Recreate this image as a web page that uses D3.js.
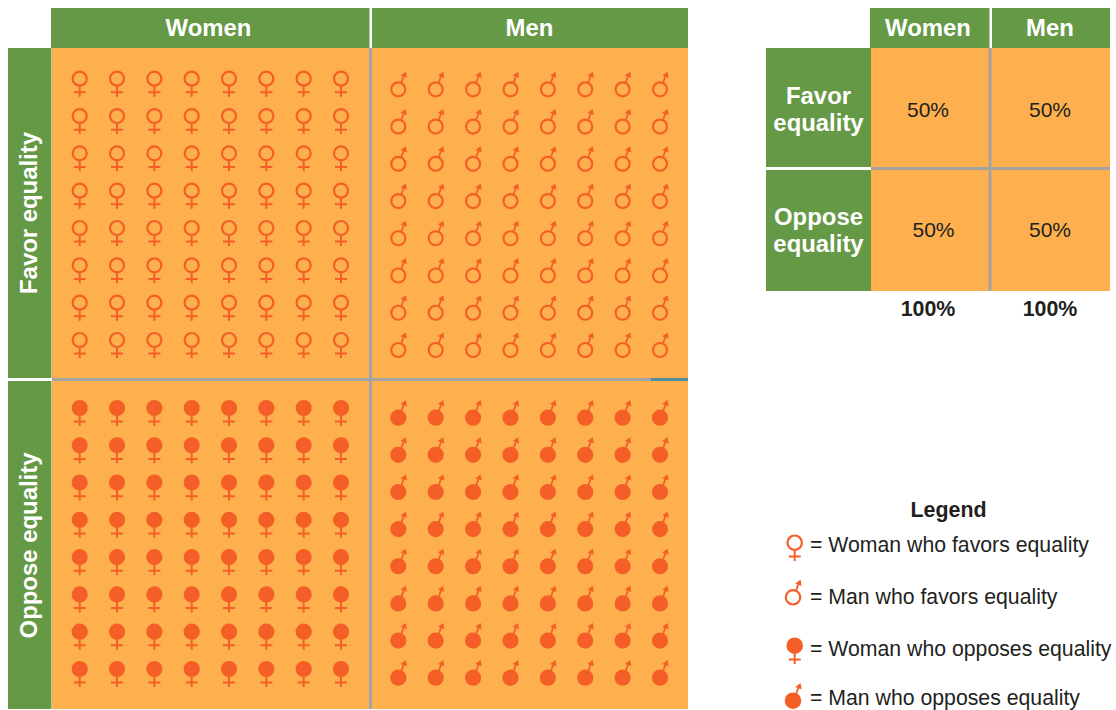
<!DOCTYPE html>
<html lang="en">
<head>
<meta charset="UTF-8">
<title>Favor or oppose equality by gender</title>
<style>
  html, body { margin: 0; padding: 0; background: #fff; }
  svg { display: block; }
  text { font-family: "Liberation Sans", Arial, sans-serif; }
</style>
</head>
<body>
<div class="canvas"></div>
<script src="https://cdnjs.cloudflare.com/ajax/libs/d3/7.8.5/d3.min.js"></script>
<script>
// data
const genders = ['Women', 'Men'];
const stances = ['Favor equality', 'Oppose equality'];
const stanceLinesTable = [['Favor', 'equality'], ['Oppose', 'equality']];
const womenCounts = [64, 64];   // favor, oppose
const menCounts = [64, 64];
const womenPercents = ['50%', '50%'];
const menPercents = ['50%', '50%'];
const totals = ['100%', '100%'];
const perRow = 8;
const legendTitle = 'Legend';
const legendLabels = [
  '= Woman who favors equality',
  '= Man who favors equality',
  '= Woman who opposes equality',
  '= Man who opposes equality'
];

const GREEN = '#659946', ORANGE = '#fdb04d', MARK = '#f45f27', GRAY = '#a3a3a3', TEAL = '#4f8e9e', INK = '#231f20';
const HEAD_SIZE = 23.9;

const svg = d3.select('.canvas').append('svg')
  .attr('width', 1116)
  .attr('height', 710);

// draws one gender symbol around the ring centre
function symbol(g, gender, oppose, r) {
  g.append('circle')
    .attr('r', r)
    .attr('fill', oppose ? MARK : 'none')
    .attr('stroke', MARK)
    .attr('stroke-width', 2.2);
  const p = d3.path();
  if (gender === 'Women') {
    p.moveTo(0, r); p.lineTo(0, r + 11);
    p.moveTo(-6, r + 6.6); p.lineTo(6, r + 6.6);
    g.append('path')
      .attr('d', p.toString())
      .attr('fill', 'none')
      .attr('stroke', MARK)
      .attr('stroke-width', 2);
  } else {
    p.moveTo(r * 0.42, -r * 0.9); p.lineTo(5.4, -13);
    g.append('path')
      .attr('d', p.toString())
      .attr('fill', 'none')
      .attr('stroke', MARK)
      .attr('stroke-width', 1.8);
    // small filled arrow head
    const h = d3.path();
    h.moveTo(7.6, -17.6); h.lineTo(2.2, -13.8); h.lineTo(8.6, -11.4); h.closePath();
    g.append('path').attr('d', h.toString()).attr('fill', MARK);
  }
}

// ---- left table
const yRow = d3.scaleOrdinal().domain(stances).range([[48, 378], [381, 709]]);

svg.append('rect').attr('x', 52).attr('y', 48).attr('width', 636).attr('height', 661).attr('fill', ORANGE);

// header cells
svg.selectAll('.colHead').data(genders).join('rect')
  .attr('class', 'colHead')
  .attr('x', d => d === 'Women' ? 51 : 372)
  .attr('y', 8)
  .attr('width', d => d === 'Women' ? 318.5 : 316)
  .attr('height', 40)
  .attr('fill', GREEN);
svg.selectAll('.colLabel').data(genders).join('text')
  .attr('class', 'colLabel')
  .attr('x', d => d === 'Women' ? 208.5 : 529.5)
  .attr('y', 36)
  .attr('text-anchor', 'middle')
  .attr('fill', '#fff')
  .attr('font-weight', 700)
  .attr('font-size', HEAD_SIZE)
  .text(d => d);

svg.selectAll('.rowHead').data(stances).join('rect')
  .attr('class', 'rowHead')
  .attr('x', 8)
  .attr('y', d => yRow(d)[0])
  .attr('width', 43.5)
  .attr('height', d => yRow(d)[1] - yRow(d)[0])
  .attr('fill', GREEN);
svg.selectAll('.rowLabel').data(stances).join('text')
  .attr('class', 'rowLabel')
  .attr('transform', d => `translate(37,${d === stances[0] ? 213 : 545.5}) rotate(-90)`)
  .attr('text-anchor', 'middle')
  .attr('fill', '#fff')
  .attr('font-weight', 700)
  .attr('font-size', HEAD_SIZE)
  .text(d => d);

// grid lines inside the table
svg.append('line').attr('x1', 370.5).attr('x2', 370.5).attr('y1', 48).attr('y2', 709)
  .attr('stroke', GRAY).attr('stroke-width', 3);
svg.append('line').attr('x1', 52).attr('x2', 651).attr('y1', 379.5).attr('y2', 379.5)
  .attr('stroke', GRAY).attr('stroke-width', 3);
svg.append('line').attr('x1', 651).attr('x2', 688).attr('y1', 379.5).attr('y2', 379.5)
  .attr('stroke', TEAL).attr('stroke-width', 3);

// symbol grids, one panel per gender + stance
const xSym = {
  Women: d3.scaleLinear().domain([0, perRow - 1]).range([79.7, 341]),
  Men: d3.scaleLinear().domain([0, perRow - 1]).range([398.3, 660])
};
const ySym = {
  Women: [
    d3.scaleLinear().domain([0, perRow - 1]).range([78.7, 340]),
    d3.scaleLinear().domain([0, perRow - 1]).range([408, 669])
  ],
  Men: [
    d3.scaleLinear().domain([0, perRow - 1]).range([89.3, 350]),
    d3.scaleLinear().domain([0, perRow - 1]).range([417.7, 677.7])
  ]
};

genders.forEach(gender => {
  const counts = gender === 'Women' ? womenCounts : menCounts;
  stances.forEach((stance, s) => {
    svg.append('g').selectAll('g').data(d3.range(counts[s])).join('g')
      .attr('transform', i => `translate(${xSym[gender](i % perRow)},${ySym[gender][s](Math.floor(i / perRow))})`)
      .each(function () { symbol(d3.select(this), gender, s === 1, 7); });
  });
});

// ---- right table
svg.append('rect').attr('x', 871).attr('y', 48).attr('width', 239).attr('height', 243).attr('fill', ORANGE);

const xSmall = d3.scaleOrdinal().domain(genders).range([928, 1050]);
svg.selectAll('.smallHead').data(genders).join('rect')
  .attr('class', 'smallHead')
  .attr('x', d => d === 'Women' ? 870 : 992)
  .attr('y', 8)
  .attr('width', d => d === 'Women' ? 119.5 : 118)
  .attr('height', 40)
  .attr('fill', GREEN);
svg.selectAll('.smallLabel').data(genders).join('text')
  .attr('class', 'smallLabel')
  .attr('x', d => xSmall(d))
  .attr('y', 36)
  .attr('text-anchor', 'middle')
  .attr('fill', '#fff')
  .attr('font-weight', 700)
  .attr('font-size', HEAD_SIZE)
  .text(d => d);

const ySmall = d3.scaleOrdinal().domain(stances).range([[48, 167], [170, 291]]);
svg.selectAll('.smallRow').data(stances).join('rect')
  .attr('class', 'smallRow')
  .attr('x', 766)
  .attr('y', d => ySmall(d)[0])
  .attr('width', 105)
  .attr('height', d => ySmall(d)[1] - ySmall(d)[0])
  .attr('fill', GREEN);
svg.selectAll('.smallRowLabel').data(stanceLinesTable).join('text')
  .attr('class', 'smallRowLabel')
  .attr('text-anchor', 'middle')
  .attr('fill', '#fff')
  .attr('font-weight', 700)
  .attr('font-size', HEAD_SIZE)
  .each(function (lines, i) {
    d3.select(this).selectAll('tspan').data(lines).join('tspan')
      .attr('x', 818.5)
      .attr('y', (d, j) => (i === 0 ? 104 : 225) + j * 27)
      .text(d => d);
  });

svg.append('line').attr('x1', 990).attr('x2', 990).attr('y1', 48).attr('y2', 291)
  .attr('stroke', GRAY).attr('stroke-width', 3);
svg.append('line').attr('x1', 871).attr('x2', 1110).attr('y1', 168.5).attr('y2', 168.5)
  .attr('stroke', GRAY).attr('stroke-width', 3);

// percent cells
const pctCells = [
  { v: womenPercents[0], x: xSmall('Women'), y: 117 },
  { v: menPercents[0], x: xSmall('Men'), y: 117 },
  { v: womenPercents[1], x: xSmall('Women') + 5.5, y: 237 },
  { v: menPercents[1], x: xSmall('Men'), y: 237 }
];
svg.selectAll('.pct').data(pctCells).join('text')
  .attr('class', 'pct')
  .attr('x', d => d.x)
  .attr('y', d => d.y)
  .attr('text-anchor', 'middle')
  .attr('fill', INK)
  .attr('font-size', 21)
  .text(d => d.v);

svg.selectAll('.total').data(totals).join('text')
  .attr('class', 'total')
  .attr('x', (d, i) => xSmall(genders[i]))
  .attr('y', 316)
  .attr('text-anchor', 'middle')
  .attr('fill', INK)
  .attr('font-weight', 700)
  .attr('font-size', 21.4)
  .text(d => d);

// ---- legend
svg.append('text')
  .attr('x', 948.5)
  .attr('y', 517)
  .attr('text-anchor', 'middle')
  .attr('fill', INK)
  .attr('font-weight', 700)
  .attr('font-size', 21.4)
  .text(legendTitle);

// last label sits a little higher than the reference so its descenders stay on the page
const legendY = d3.scaleOrdinal().domain(legendLabels).range([552, 604, 656, 704.5]);
const legendSym = [
  { g: 'Women', opp: false, x: 794.7, y: 542.7 },
  { g: 'Men', opp: false, x: 793, y: 597.3 },
  { g: 'Women', opp: true, x: 794.7, y: 645.7 },
  { g: 'Men', opp: true, x: 793, y: 700.7 }
];
svg.append('g').selectAll('g').data(legendSym).join('g')
  .attr('transform', d => `translate(${d.x},${d.y})`)
  .each(function (d) { symbol(d3.select(this), d.g, d.opp, 7.2); });

svg.selectAll('.legendLabel').data(legendLabels).join('text')
  .attr('class', 'legendLabel')
  .attr('x', 810)
  .attr('y', d => legendY(d))
  .attr('fill', INK)
  .attr('font-size', 21.25)
  .text(d => d);
</script>
</body>
</html>
